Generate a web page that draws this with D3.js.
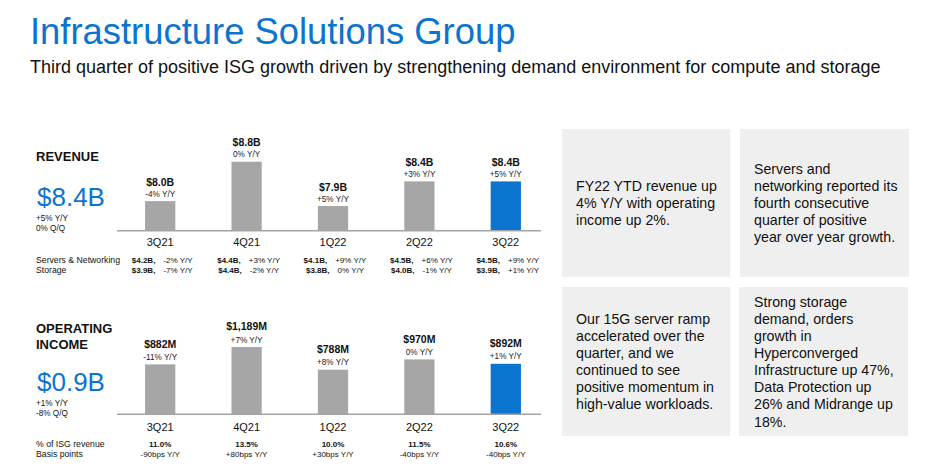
<!DOCTYPE html>
<html>
<head>
<meta charset="utf-8">
<script src="https://cdn.jsdelivr.net/npm/d3@7"></script>
<style>
  html, body { margin: 0; padding: 0; background: #fff; }
  svg { display: block; font-family: "Liberation Sans", Arial, sans-serif; }
</style>
</head>
<body>
<svg id="chart" width="936" height="474"></svg>
<script>
// ---- Data ----
const quarters = ["3Q21", "4Q21", "1Q22", "2Q22", "3Q22"];
const revenue = [8.0, 8.8, 7.9, 8.4, 8.4];
const revenueLabels = ["$8.0B", "$8.8B", "$7.9B", "$8.4B", "$8.4B"];
const revenueYoY = ["-4% Y/Y", "0% Y/Y", "+5% Y/Y", "+3% Y/Y", "+5% Y/Y"];
const serversNet = ["$4.2B,", "$4.4B,", "$4.1B,", "$4.5B,", "$4.5B,"];
const serversNetYoY = ["-2% Y/Y", "+3% Y/Y", "+9% Y/Y", "+6% Y/Y", "+9% Y/Y"];
const storage = ["$3.9B,", "$4.4B,", "$3.8B,", "$4.0B,", "$3.9B,"];
const storageYoY = ["-7% Y/Y", "-2% Y/Y", "0% Y/Y", "-1% Y/Y", "+1% Y/Y"];

const opIncome = [882, 1189, 788, 970, 892];
const opIncomeLabels = ["$882M", "$1,189M", "$788M", "$970M", "$892M"];
const opIncomeYoY = ["-11% Y/Y", "+7% Y/Y", "+8% Y/Y", "0% Y/Y", "+1% Y/Y"];
const pctOfRevenue = ["11.0%", "13.5%", "10.0%", "11.5%", "10.6%"];
const basisPoints = ["-90bps Y/Y", "+80bps Y/Y", "+30bps Y/Y", "-40bps Y/Y", "-40bps Y/Y"];

const title = "Infrastructure Solutions Group";
const subtitle = "Third quarter of positive ISG growth driven by strengthening demand environment for compute and storage";

const boxTexts = [
  ["FY22 YTD revenue up", "4% Y/Y with operating", "income up 2%."],
  ["Servers and", "networking reported its", "fourth consecutive", "quarter of positive", "year over year growth."],
  ["Our 15G server ramp", "accelerated over the", "quarter, and we", "continued to see", "positive momentum in", "high-value workloads."],
  ["Strong storage", "demand, orders", "growth in", "Hyperconverged", "Infrastructure up 47%,", "Data Protection up", "26% and Midrange up", "18%."]
];

// ---- Styles ----
const BLUE = "#0a74cf";
const GRAY = "#a6a6a6";
const AXIS = "#a3a3a3";
const TXT = "#111";

const svg = d3.select("#chart");

// Title
svg.append("text").attr("x", 30).attr("y", 44)
  .attr("font-size", 36.4).attr("fill", BLUE).text(title);
svg.append("text").attr("x", 30).attr("y", 72.5)
  .attr("font-size", 18).attr("fill", TXT).text(subtitle);

// Shared x band scale
const x = d3.scaleBand().domain(quarters).range([117, 549])
  .paddingInner(0.65).paddingOuter(0.325);
const cx = q => x(q) + x.bandwidth() / 2;
const colorOf = (q, i) => i === quarters.length - 1 ? BLUE : GRAY;

function panel(cfg) {
  const g = svg.append("g");
  const y = cfg.y;
  const base = y.range()[0];

  // headings
  cfg.heading.forEach((h, i) => {
    g.append("text").attr("x", 36).attr("y", cfg.headingY + i * 16.6)
      .attr("font-size", 13).attr("font-weight", "bold").attr("fill", TXT).text(h);
  });
  g.append("text").attr("x", 37).attr("y", cfg.bigY)
    .attr("font-size", 26).attr("fill", BLUE).text(cfg.big);
  cfg.bigSub.forEach((s, i) => {
    g.append("text").attr("x", 36).attr("y", cfg.bigY + 15.5 + i * 10)
      .attr("font-size", 8.2).attr("fill", TXT).text(s);
  });

  // bars
  g.selectAll("rect.bar").data(quarters).join("rect")
    .attr("class", "bar")
    .attr("x", q => x(q))
    .attr("width", x.bandwidth())
    .attr("y", (q, i) => y(cfg.values[i]))
    .attr("height", (q, i) => base - y(cfg.values[i]))
    .attr("fill", colorOf);

  // axis line
  g.append("line").attr("x1", 117).attr("x2", 541).attr("y1", base).attr("y2", base)
    .attr("stroke", AXIS).attr("stroke-width", 1.5);

  // value labels
  g.selectAll("text.val").data(quarters).join("text")
    .attr("class", "val")
    .attr("x", cx).attr("y", (q, i) => y(cfg.values[i]) - cfg.valOff)
    .attr("text-anchor", "middle").attr("font-size", 10.5).attr("font-weight", "bold")
    .attr("fill", TXT).text((q, i) => cfg.labels[i]);
  g.selectAll("text.yoy").data(quarters).join("text")
    .attr("class", "yoy")
    .attr("x", cx).attr("y", (q, i) => y(cfg.values[i]) - 4.5)
    .attr("text-anchor", "middle").attr("font-size", 8.2)
    .attr("fill", "#222").text((q, i) => cfg.yoy[i]);

  // category labels
  g.selectAll("text.cat").data(quarters).join("text")
    .attr("class", "cat")
    .attr("x", cx).attr("y", base + cfg.catOff)
    .attr("text-anchor", "middle").attr("font-size", 11)
    .attr("fill", TXT).text(q => q);

  // detail rows
  cfg.rows.forEach((row, r) => {
    const yy = base + cfg.rowOff + r * 10;
    g.append("text").attr("x", 36).attr("y", yy)
      .attr("font-size", 8.7).attr("fill", TXT).text(row.name);
    const t = g.selectAll("text.row" + r).data(quarters).join("text")
      .attr("class", "row" + r)
      .attr("x", q => cx(q) + (row.shift || 0)).attr("y", yy)
      .attr("text-anchor", "middle").attr("font-size", 8).attr("fill", TXT);
    t.each(function(q, i) {
      const s = d3.select(this);
      if (row.bold) s.append("tspan").attr("font-weight", "bold").text(row.bold[i]);
      if (row.normal) s.append("tspan").attr("dx", row.bold ? 8 : 0).text(row.normal[i]);
    });
  });
}

// Revenue panel
panel({
  y: d3.scaleLinear().domain([7.4, 8.8]).range([230.7, 161.7]),
  values: revenue, labels: revenueLabels, yoy: revenueYoY,
  heading: ["REVENUE"], headingY: 160.5,
  big: "$8.4B", bigY: 205.7, bigSub: ["+5% Y/Y", "0% Q/Q"],
  valOff: 15.3, catOff: 15.5, rowOff: 32.5,
  rows: [
    { name: "Servers & Networking", bold: serversNet, normal: serversNetYoY, shift: 2 },
    { name: "Storage", bold: storage, normal: storageYoY, shift: 2 }
  ]
});

// Operating income panel
panel({
  y: d3.scaleLinear().domain([0, 1189]).range([414.3, 347]),
  values: opIncome, labels: opIncomeLabels, yoy: opIncomeYoY,
  heading: ["OPERATING", "INCOME"], headingY: 332.7,
  big: "$0.9B", bigY: 390.7, bigSub: ["+1% Y/Y", "-8% Q/Q"],
  valOff: 16.8, catOff: 16.5, rowOff: 33,
  rows: [
    { name: "% of ISG revenue", bold: pctOfRevenue },
    { name: "Basis points", normal: basisPoints }
  ]
});

// Right text boxes
const boxes = [
  { x: 562, y: 129, w: 168, h: 148, tx: 576 },
  { x: 740, y: 129, w: 169, h: 148, tx: 754 },
  { x: 562, y: 287, w: 168, h: 149, tx: 576 },
  { x: 739, y: 287, w: 169, h: 149, tx: 754 }
];
const LH = 17.1;
boxes.forEach((b, i) => {
  svg.append("rect").attr("x", b.x).attr("y", b.y).attr("width", b.w).attr("height", b.h)
    .attr("fill", "#efefef");
  const lines = boxTexts[i];
  const first = b.y + b.h / 2 + 5.2 - (lines.length - 1) / 2 * LH;
  svg.append("g").selectAll("text").data(lines).join("text")
    .attr("x", b.tx).attr("y", (d, k) => first + k * LH)
    .attr("font-size", 14.2).attr("fill", TXT).text(d => d);
});
</script>
</body>
</html>
